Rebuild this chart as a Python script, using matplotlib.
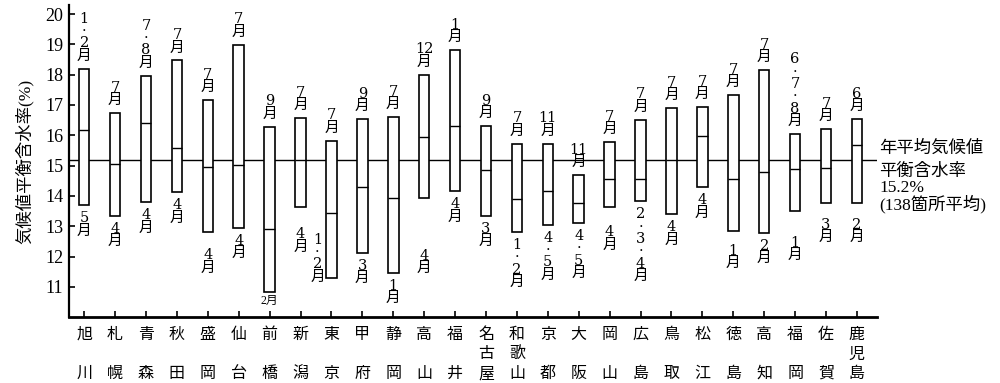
import numpy as np
import matplotlib
matplotlib.use("Agg")
import matplotlib.pyplot as plt

plt.rcParams['font.family'] = ['Liberation Serif', 'Noto Sans CJK JP']

cities = ["旭川", "札幌", "青森", "秋田", "盛岡", "仙台", "前橋", "新潟", "東京",
          "甲府", "静岡", "高山", "福井", "名古屋", "和歌山", "京都", "大阪", "岡山",
          "広島", "鳥取", "松江", "徳島", "高知", "福岡", "佐賀", "鹿児島"]
high = [18.2, 16.73, 17.97, 18.47, 17.16, 18.99, 16.28, 16.56, 15.82,
        16.53, 16.59, 18.0, 18.81, 16.31, 15.72, 15.72, 14.69, 15.78,
        16.51, 16.9, 16.92, 17.33, 18.15, 16.04, 16.2, 16.53]
low = [13.69, 13.35, 13.79, 14.12, 12.8, 12.94, 10.83, 13.63, 11.3,
       12.12, 11.46, 13.93, 14.15, 13.35, 12.81, 13.05, 13.11, 13.62,
       13.82, 13.39, 14.29, 12.85, 12.78, 13.51, 13.77, 13.77]
mean = [16.18, 15.05, 16.42, 15.57, 14.95, 15.03, 12.91, 15.2, 13.44,
        14.29, 13.93, 15.95, 16.32, 14.84, 13.91, 14.16, 13.77, 14.56,
        14.57, 15.2, 15.99, 14.57, 14.79, 14.9, 14.91, 15.67]
high_month = ["1·2月", "7月", "7·8月", "7月", "7月", "7月", "9月", "7月", "7月",
              "9月", "7月", "12月", "1月", "9月", "7月", "11月", "11月", "7月",
              "7月", "7月", "7月", "7月", "7月", "6·7·8月", "7月", "6月"]
low_month = ["5月", "4月", "4月", "4月", "4月", "4月", "2月", "4月", "1·2月",
             "3月", "1月", "4月", "4月", "3月", "1·2月", "4·5月", "4·5月", "4月",
             "2·3·4月", "4月", "4月", "1月", "2月", "1月", "3月", "2月"]
overall = 15.2


def vert(s):
    # stack characters vertically; "12"/"11" stay on one row
    if s.startswith("1") and len(s) > 2 and s[1] in "12":
        return s[:2] + "\n" + "\n".join(s[2:])
    return "\n".join(s)


def city_label(name):
    if len(name) == 2:
        return name[0] + "\n\n" + name[1]
    return "\n".join(name)


fig = plt.figure(figsize=(10, 3.83), dpi=100)
ax = fig.add_axes([0.069, 0.172, 0.808, 0.815])

x = np.arange(len(cities))
w = 0.34
ax.bar(x, np.array(high) - np.array(low), bottom=low, width=w,
       color="white", edgecolor="black", linewidth=1.2, zorder=3)
ax.hlines(mean, x - w / 2, x + w / 2, color="black", linewidth=1.0, zorder=4)
ax.axhline(overall, color="black", linewidth=1.0, zorder=2)

# extra drop (pixels) for some lower labels
low_nudge = {"高山": 45, "福岡": 19, "新潟": 14, "岡山": 12, "盛岡": 10,
             "鹿児島": 9, "佐賀": 9, "徳島": 7}
mfont = dict(fontsize=10.5, linespacing=0.85,
             family=['DejaVu Serif', 'Noto Sans CJK JP'])

for i, c in enumerate(cities):
    ax.annotate(vert(high_month[i]), (x[i], high[i]), xytext=(0, 6),
                textcoords="offset pixels", ha="center", va="bottom", **mfont)
    if c == "前橋":
        ax.annotate(low_month[i], (x[i], low[i]), xytext=(0, -3),
                    textcoords="offset pixels", ha="center", va="top",
                    fontsize=8.5)
    elif c == "東京":
        ax.annotate(vert(low_month[i]), (x[i], low[i]), xytext=(-14, -6),
                    textcoords="offset pixels", ha="center", va="bottom", **mfont)
    else:
        ax.annotate(vert(low_month[i]), (x[i], low[i]),
                    xytext=(0, -6 - low_nudge.get(c, 0)),
                    textcoords="offset pixels", ha="center", va="top", **mfont)

ax.text(1.003, overall + 0.1, "年平均気候値", transform=ax.get_yaxis_transform(),
        ha="left", va="bottom", fontsize=12.5)
ax.text(1.003, overall - 0.15, "平衡含水率\n15.2%\n(138箇所平均)",
        transform=ax.get_yaxis_transform(), ha="left", va="top",
        fontsize=12.5, linespacing=0.95, clip_on=False)

ax.set_xlim(-0.49, 25.65)
ax.set_ylim(10, 20.3)
ax.set_yticks(range(11, 21))
ax.set_xticks(x)
ax.set_xticklabels([city_label(c) for c in cities], fontsize=11.5, linespacing=1.3)
ax.tick_params(axis="both", direction="in", length=4, width=1.2)
ax.tick_params(axis="y", labelsize=13, pad=4)
ax.tick_params(axis="x", pad=7)
ax.set_ylabel("気候値平衡含水率(%)", fontsize=12.5, labelpad=8)

for s in ["top", "right"]:
    ax.spines[s].set_visible(False)
ax.spines["left"].set_linewidth(1.6)
ax.spines["bottom"].set_linewidth(2.0)

fig.savefig("out.png", dpi=100, facecolor="white")
